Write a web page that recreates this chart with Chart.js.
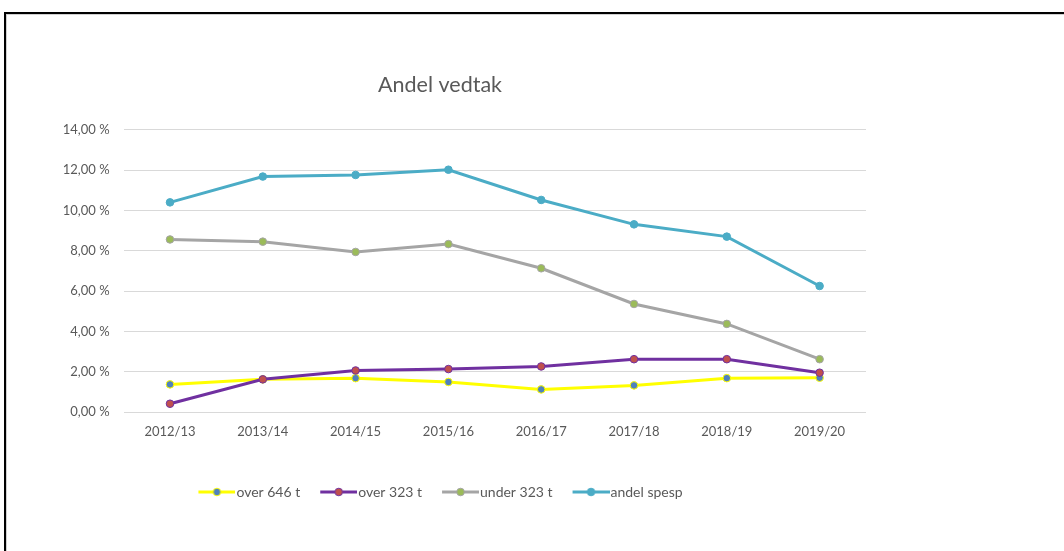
<!DOCTYPE html>
<html>
<head>
<meta charset="utf-8">
<script src="https://cdn.jsdelivr.net/npm/chart.js@4.4.1/dist/chart.umd.min.js"></script>
<style>
  html, body { margin: 0; padding: 0; background: #fff; }
  body { width: 1064px; height: 551px; position: relative; overflow: hidden; }
  #frame {
    position: absolute; left: 4px; top: 12px; width: 1080px; height: 560px;
    border-top: 2px solid #000; border-left: 2px solid #000;
    box-shadow: inset 1px 1px 0 #d0d0d0;
  }
  #chart { position: absolute; left: 0; top: 0; }
</style>
</head>
<body>
<div id="frame"></div>
<canvas id="chart" width="880" height="551"></canvas>
<script>
// Data (percent)
const years = ['2012/13', '2013/14', '2014/15', '2015/16', '2016/17', '2017/18', '2018/19', '2019/20'];
const over646 = [1.37, 1.62, 1.68, 1.49, 1.12, 1.32, 1.68, 1.70];
const over323 = [0.41, 1.62, 2.06, 2.13, 2.26, 2.62, 2.62, 1.95];
const under323 = [8.56, 8.45, 7.94, 8.33, 7.13, 5.36, 4.37, 2.62];
const andelSpesp = [10.40, 11.68, 11.76, 12.02, 10.52, 9.31, 8.70, 6.25];
const yTickLabels = ['0,00 %', '2,00 %', '4,00 %', '6,00 %', '8,00 %', '10,00 %', '12,00 %', '14,00 %'];

const textColor = '#595959';
const font = 'Lato, "Open Sans", sans-serif';

function series(label, values, line, marker, markerBorder, idx) {
  return {
    label: label,
    data: values,
    borderColor: line,
    backgroundColor: line,
    borderWidth: 3,
    pointRadius: 3.8,
    pointBorderWidth: 1,
    pointBackgroundColor: marker,
    pointBorderColor: markerBorder,
    tension: 0,
    order: 3 - idx
  };
}

// legend symbol: a short line with the marker in the middle,
// shifted right inside the image so it sits close to the text
function legendIcon(ds) {
  const c = document.createElement('canvas');
  c.width = 44; c.height = 10;
  const g = c.getContext('2d');
  g.strokeStyle = ds.borderColor;
  g.lineWidth = 3;
  g.beginPath(); g.moveTo(7, 5); g.lineTo(44, 5); g.stroke();
  g.beginPath(); g.arc(25.5, 5, 3.8, 0, Math.PI * 2);
  g.fillStyle = ds.pointBackgroundColor; g.fill();
  g.lineWidth = 1; g.strokeStyle = ds.pointBorderColor; g.stroke();
  return c;
}

const ctx = document.getElementById('chart').getContext('2d');
new Chart(ctx, {
  type: 'line',
  data: {
    labels: years,
    datasets: [
      series('over 646 t', over646, '#FFFF00', '#4F81BD', '#FFFF00', 0),
      series('over 323 t', over323, '#7030A0', '#C0504D', '#7030A0', 1),
      series('under 323 t', under323, '#A5A5A5', '#9BBB59', '#A5A5A5', 2),
      series('andel spesp', andelSpesp, '#4BACC6', '#4BACC6', '#4BACC6', 3)
    ]
  },
  options: {
    responsive: false,
    animation: false,
    layout: { padding: { left: 14, right: 14, top: 0, bottom: 42 } },
    plugins: {
      title: {
        display: true,
        text: 'Andel vedtak',
        color: textColor,
        font: { family: font, size: 21.5, weight: 'normal' },
        padding: { top: 72, bottom: 32 }
      },
      legend: {
        position: 'bottom',
        title: { display: true, text: '', padding: { top: 0, bottom: 0 } },
        labels: {
          usePointStyle: true,
          pointStyleWidth: 32,
          padding: 19,
          color: textColor,
          font: { family: font, size: 14 },
          sort: (a, b) => a.datasetIndex - b.datasetIndex,
          generateLabels(chart) {
            const items = Chart.defaults.plugins.legend.labels.generateLabels(chart);
            items.forEach(it => { it.pointStyle = legendIcon(chart.data.datasets[it.datasetIndex]); });
            return items;
          }
        }
      },
      tooltip: { enabled: false }
    },
    scales: {
      x: {
        offset: true,
        grid: { display: false, drawTicks: false },
        border: { display: false },
        ticks: { color: textColor, font: { family: font, size: 13 }, padding: 12 }
      },
      y: {
        min: 0,
        max: 14,
        afterFit(scale) { scale.width = 109.6; },
        grid: { color: '#D9D9D9', lineWidth: 1, drawTicks: false },
        border: { display: false },
        ticks: {
          stepSize: 2,
          padding: 14,
          color: textColor,
          font: { family: font, size: 13 },
          callback: (v, i) => yTickLabels[i]
        }
      }
    }
  }
});
</script>
</body>
</html>
